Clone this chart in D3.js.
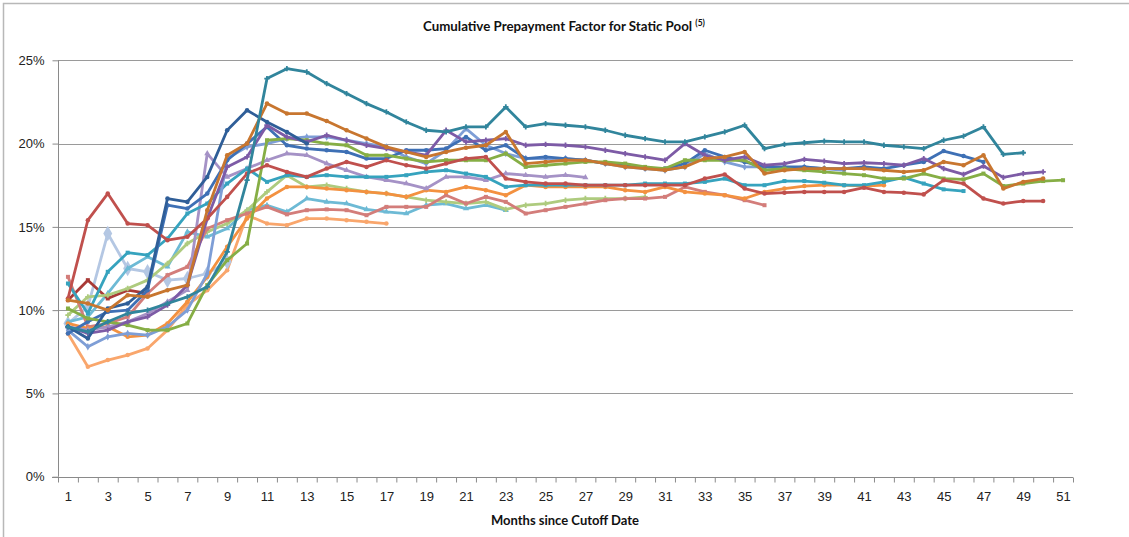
<!DOCTYPE html>
<html><head><meta charset="utf-8">
<script src="https://cdn.jsdelivr.net/npm/d3@7"></script>
<style>body{margin:0;background:#fff}svg{display:block;font-family:Lato,"Open Sans",sans-serif}</style>
</head><body><svg id="c" width="1129" height="537"></svg>
<script>
const months = d3.range(1, 52);
const xTickLabels = d3.range(1, 52, 2);
const yTicks = [0, 5, 10, 15, 20, 25];
const title = "Cumulative Prepayment Factor for Static Pool";
const titleNote = "(5)";
const xTitle = "Months since Cutoff Date";

const seriesNames = ["lightOrange","paleBlue","lightCyan","darkRed","lightGreen","rose","orange","lightPurple","cyan","steelBlue","medBlue","green","purple","red","darkBlue","orangeBrown","darkTeal"];
const lightOrange = [8.6,6.6,7.0,7.3,7.7,8.8,10.3,11.2,12.4,15.7,15.2,15.1,15.5,15.5,15.4,15.3,15.2];
const paleBlue = [9.2,10.2,14.6,12.5,12.3,11.8,11.9,12.2,12.9];
const lightCyan = [9.3,9.6,11.0,12.5,13.2,12.6,14.7,14.4,14.9,16.0,16.3,15.9,16.7,16.5,16.4,16.05,15.9,15.8,16.3,16.4,16.1,16.3,16.0];
const darkRed = [10.6,11.8,10.7,11.2,11.0];
const lightGreen = [9.7,10.8,10.9,11.3,11.8,12.8,14.0,14.7,15.2,16.0,17.1,18.1,17.4,17.5,17.3,17.1,17.0,16.8,16.6,16.5,16.4,16.5,16.05,16.3,16.4,16.6,16.7,16.7,16.7,16.8];
const rose = [12.0,9.0,9.2,9.6,11.0,12.1,12.6,14.9,15.4,15.8,16.2,15.75,16.0,16.05,16.0,15.7,16.2,16.2,16.2,16.9,16.4,16.8,16.5,15.8,16.0,16.2,16.4,16.6,16.7,16.7,16.8,17.4,17.1,16.9,16.6,16.3];
const orange = [9.2,8.9,9.0,8.4,8.5,9.2,10.5,12.0,13.8,15.5,16.7,17.4,17.4,17.3,17.2,17.1,17.0,16.8,17.2,17.1,17.4,17.2,16.9,17.5,17.4,17.4,17.4,17.4,17.2,17.1,17.4,17.1,17.0,16.9,16.7,17.1,17.3,17.45,17.5,17.5,17.45,17.5];
const lightPurple = [9.0,8.8,9.0,9.3,9.8,10.5,11.2,19.4,18.0,18.5,19.0,19.4,19.3,18.8,18.4,18.0,17.8,17.6,17.3,18.0,18.0,17.8,18.2,18.1,18.0,18.1,17.97];
const cyan = [11.6,9.8,12.3,13.45,13.3,14.3,15.8,16.4,17.6,18.5,17.7,18.1,18.0,18.1,18.0,18.0,18.0,18.1,18.3,18.4,18.2,18.0,17.4,17.5,17.5,17.5,17.5,17.5,17.5,17.6,17.6,17.6,17.7,17.9,17.5,17.5,17.75,17.75,17.65,17.5,17.5,17.7,17.97,17.6,17.25,17.15];
const steelBlue = [8.8,7.8,8.4,8.6,8.5,9.0,10.0,12.2,19.1,19.8,20.0,20.3,20.4,20.4,20.2,20.0,19.8,19.2,18.8,19.6,20.9,19.9,19.4,19.1,19.1,19.1,19.0,18.8,18.6,18.5,18.4,18.6,19.4,18.9,18.6,18.6,18.5,18.6,18.5,18.4];
const medBlue = [8.6,9.3,9.9,10.0,11.2,16.3,16.1,17.0,19.0,20.0,21.0,19.9,19.7,19.6,19.5,19.1,19.1,19.6,19.6,19.7,20.4,19.6,19.9,19.1,19.2,19.1,19.0,18.8,18.7,18.5,18.5,18.8,19.6,19.2,18.9,18.6,18.6,18.6,18.5,18.5,18.6,18.5,18.7,18.9,19.55,19.25,18.9];
const green = [10.1,9.5,9.3,9.1,8.8,8.8,9.2,11.5,13.0,14.0,20.2,20.3,20.2,20.0,19.9,19.3,19.3,19.1,18.9,19.0,19.0,19.0,19.4,18.6,18.7,18.8,18.9,18.9,18.8,18.6,18.5,19.0,19.0,19.0,19.0,18.4,18.5,18.4,18.3,18.2,18.1,17.9,17.9,18.2,17.9,17.85,18.2,17.45,17.6,17.75,17.8];
const purple = [9.0,8.6,8.8,9.3,9.6,10.3,11.5,15.5,18.6,19.2,21.1,20.4,20.1,20.5,20.2,19.9,19.7,19.5,19.3,20.8,20.1,20.2,20.3,19.9,19.95,19.9,19.8,19.6,19.4,19.2,19.0,20.0,19.3,19.0,19.2,18.7,18.8,19.05,18.95,18.8,18.85,18.8,18.7,19.1,18.5,18.15,18.65,17.97,18.2,18.3];
const red = [10.7,15.4,17.0,15.2,15.1,14.2,14.4,15.5,16.8,18.2,18.7,18.3,18.0,18.5,18.9,18.6,19.0,18.7,18.5,18.8,19.1,19.2,17.9,17.7,17.6,17.6,17.5,17.5,17.5,17.5,17.5,17.5,17.9,18.15,17.3,17.0,17.05,17.1,17.1,17.1,17.35,17.1,17.05,16.95,17.8,17.6,16.7,16.4,16.55,16.55];
const darkBlue = [9.0,8.3,10.1,10.4,11.4,16.7,16.5,18.0,20.8,22.0,21.3,20.7,20.0];
const orangeBrown = [10.6,10.4,10.0,10.9,10.8,11.2,11.5,16.0,19.3,20.0,22.4,21.8,21.8,21.35,20.8,20.3,19.8,19.5,19.2,19.5,19.75,19.9,20.7,18.8,18.9,19.0,19.0,18.8,18.6,18.5,18.4,18.6,19.1,19.2,19.5,18.2,18.4,18.5,18.5,18.5,18.5,18.4,18.3,18.4,18.9,18.7,19.3,17.3,17.7,17.9];
const darkTeal = [9.0,8.7,9.3,9.8,10.0,10.4,10.8,11.4,13.5,17.8,23.9,24.5,24.3,23.6,23.0,22.4,21.9,21.3,20.8,20.7,21.0,21.0,22.2,21.0,21.2,21.1,21.0,20.8,20.5,20.3,20.1,20.1,20.4,20.7,21.1,19.7,19.95,20.05,20.15,20.1,20.1,19.9,19.8,19.7,20.2,20.45,21.0,19.35,19.45];

const seriesData = {lightOrange,paleBlue,lightCyan,darkRed,lightGreen,rose,orange,lightPurple,cyan,steelBlue,medBlue,green,purple,red,darkBlue,orangeBrown,darkTeal};
const colors = {lightOrange:"#F9A66C",paleBlue:"#B4C7E3",lightCyan:"#6DBAD5",darkRed:"#A93A37",lightGreen:"#AECB7E",rose:"#D37D7A",orange:"#F39140",lightPurple:"#A592C6",cyan:"#36A3BE",steelBlue:"#7E9ED6",medBlue:"#3E70B5",green:"#86AE45",purple:"#7D5BA6",red:"#C0504D",darkBlue:"#2F5E98",orangeBrown:"#C8762F",darkTeal:"#31859C"};
const symbols = {lightOrange:d3.symbolCircle,paleBlue:d3.symbolDiamond,lightCyan:d3.symbolTriangle,darkRed:d3.symbolSquare,lightGreen:d3.symbolCross,rose:d3.symbolSquare,orange:d3.symbolCircle,lightPurple:d3.symbolTriangle,cyan:d3.symbolSquare,steelBlue:d3.symbolDiamond,medBlue:d3.symbolCircle,green:d3.symbolSquare,purple:d3.symbolCross,red:d3.symbolCircle,darkBlue:d3.symbolCircle,orangeBrown:d3.symbolCircle,darkTeal:d3.symbolCross};

const svg = d3.select("#c");
const L = 58, R = 1073, T = 60.3, B = 476.7;
const x = d3.scalePoint().domain(months).range([L, R]).padding(0.5);
const xEdge = d3.scaleLinear().domain([0.5, 51.5]).range([L, R]);
const y = d3.scaleLinear().domain([0, 25]).range([B, T]);

svg.append("path").attr("d", `M3.5,537 V3.5 H1129`).attr("fill","none").attr("stroke","#b8b8b8").attr("stroke-width",1.5);

svg.append("g").selectAll("line").data(yTicks.filter(d=>d>0)).join("line")
  .attr("x1", L).attr("x2", R).attr("y1", d=>Math.round(y(d))+0.5).attr("y2", d=>Math.round(y(d))+0.5)
  .attr("stroke", "#9a9a9a").attr("stroke-width", 1.2);

const yAxis = svg.append("g").attr("transform", `translate(${L+0.5},0)`)
  .call(d3.axisLeft(y).tickValues(yTicks).tickSize(6).tickFormat(d => d + "%"));
yAxis.select(".domain").attr("stroke", "#8a8a8a").attr("d", `M0,${T}V${B}`);
yAxis.selectAll(".tick line").attr("stroke", "#8a8a8a");
yAxis.selectAll("text").attr("font-size", 13).attr("fill", "#222").attr("x", -14);

const xAxis = svg.append("g").attr("transform", `translate(0,${Math.round(B)+0.5})`)
  .call(d3.axisBottom(xEdge).tickValues(d3.range(0.5, 52, 1)).tickSize(5).tickFormat(""));
xAxis.select(".domain").attr("stroke", "#8a8a8a").attr("d", `M${L-6},0H${R}`);
xAxis.selectAll(".tick line").attr("stroke", "#8a8a8a");
const xLab = svg.append("g").attr("transform", `translate(0,${Math.round(B)})`)
  .call(d3.axisBottom(x).tickValues(xTickLabels).tickSize(0).tickPadding(15));
xLab.select(".domain").remove();
xLab.selectAll("text").attr("font-size", 13).attr("fill", "#222");

const line = d3.line().x((d,i)=>x(i+1)).y(d=>y(d));
const gS = svg.append("g");
seriesNames.forEach(name => {
  const vals = seriesData[name];
  gS.append("path").attr("d", line(vals)).attr("fill","none")
    .attr("stroke", colors[name]).attr("stroke-width", 2.8).attr("stroke-linejoin","round").attr("stroke-linecap","round");
  gS.append("g").selectAll("path").data(vals).join("path")
    .attr("transform", (d,i)=>`translate(${x(i+1)},${y(d)})`)
    .attr("d", d3.symbol().type(symbols[name]).size(name==="paleBlue"?70:16))
    .attr("fill", colors[name]);
});

const t = svg.append("text").attr("x", 564).attr("y", 31).attr("text-anchor","middle")
  .attr("font-size", 13.3).attr("font-weight","bold").attr("fill","#111");
t.append("tspan").text(title + " ");
t.append("tspan").text(titleNote).attr("font-size", 8.5).attr("dy", -5);
svg.append("text").attr("x", 565).attr("y", 525).attr("text-anchor","middle")
  .attr("font-size", 13).attr("font-weight","bold").attr("fill","#111").text(xTitle);
</script></body></html>
